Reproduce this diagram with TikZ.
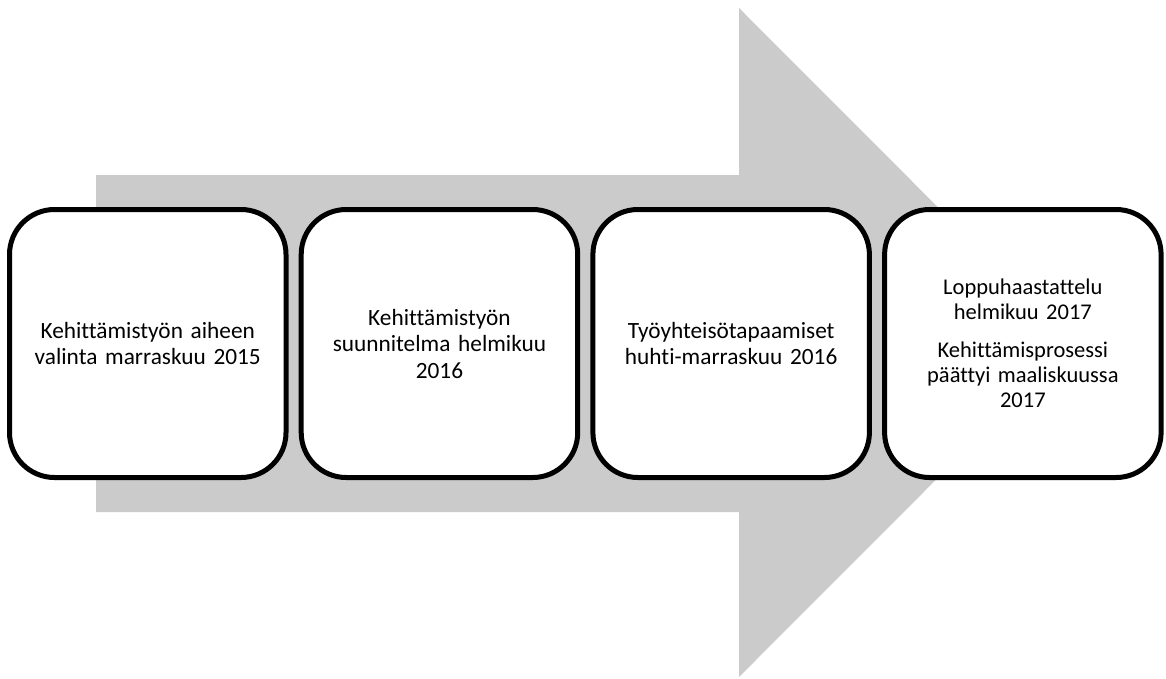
\documentclass[tikz,border=0pt]{standalone}
\usepackage{fontspec}
\setmainfont{Carlito}[Ligatures={NoCommon}]
\definecolor{arrowgrey}{RGB}{203,203,203}
\begin{document}
\begin{tikzpicture}[x=1pt,y=-1pt,
  stage/.style={draw=black, line width=5pt, fill=white, rounded corners=45pt,
    minimum width=276.5pt, minimum height=268pt, inner sep=0pt,
    text width=262pt, align=center, font=\fontsize{23.3}{26.5}\selectfont},
  stagesmall/.style={stage, font=\fontsize{22.5}{25}\selectfont}]
\useasboundingbox (0,0) rectangle (1166,678);
% background block arrow
\fill[arrowgrey] (96,175) -- (739,175) -- (739,8) -- (1073,342.5)
  -- (739,677) -- (739,512) -- (96,512) -- cycle;
% process stages
\node[stage] (s1) at (147.75,343.5) {Kehittämistyön aiheen\\valinta marraskuu 2015};
\node[stage] (s2) at (439.45,343.5) {Kehittämistyön\\suunnitelma helmikuu\\2016};
\node[stage] (s3) at (731.15,343.5) {Työyhteisötapaamiset\\huhti-marraskuu 2016};
\node[stagesmall] (s4) at (1022.85,343.5) {Loppuhaastattelu\\helmikuu 2017\\[13pt]Kehittämisprosessi\\päättyi maaliskuussa\\2017};
\end{tikzpicture}
\end{document}
